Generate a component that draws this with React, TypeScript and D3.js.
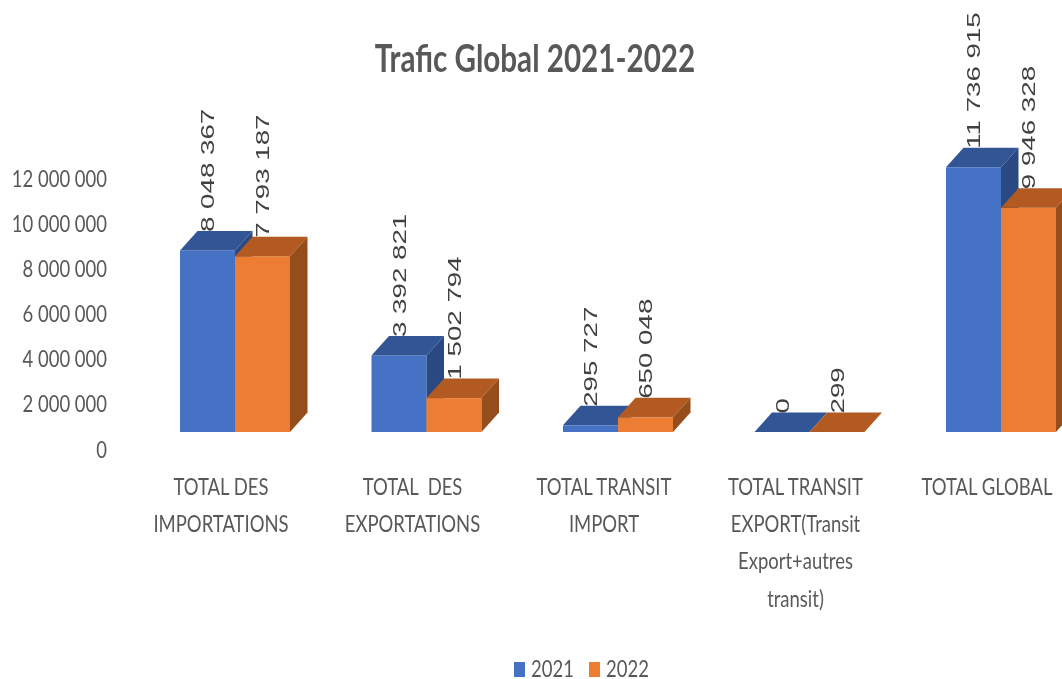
import React from "react";
import * as d3 from "d3";

const categories = ["imports", "exports", "transitImport", "transitExport", "global"];
const categoryLines = [
  ["TOTAL DES", "IMPORTATIONS"],
  ["TOTAL  DES", "EXPORTATIONS"],
  ["TOTAL TRANSIT", "IMPORT"],
  ["TOTAL TRANSIT", "EXPORT(Transit", "Export+autres", "transit)"],
  ["TOTAL GLOBAL"],
];
const values2021 = [8048367, 3392821, 295727, 0, 11736915];
const values2022 = [7793187, 1502794, 650048, 299, 9946328];
const labels2021 = ["8 048 367", "3 392 821", "295 727", "0", "11 736 915"];
const labels2022 = ["7 793 187", "1 502 794", "650 048", "299", "9 946 328"];
const yTicks = [0, 2000000, 4000000, 6000000, 8000000, 10000000, 12000000];
const yTickLabels = ["0", "2 000 000", "4 000 000", "6 000 000", "8 000 000", "10 000 000", "12 000 000"];

const W = 1062, H = 679;
const DX = 17.5, DY = 19.5;
const SANS = "Lato, 'Liberation Sans', sans-serif";
const GREY = "#595959";
const SQUEEZE = 0.77;

const y = d3.scaleLinear().domain([0, 12000000]).range([432, 161.4]);
const x0 = d3.scaleBand().domain(categories).range([180, 180 + 191.5 * 5]);
const x1 = d3.scaleBand().domain(["2021", "2022"]).range([0, 110]);

const palette: Record<string, { front: string; top: string; side: string }> = {
  "2021": { front: "#4472C4", top: "#305496", side: "#2A4A82" },
  "2022": { front: "#ED7D31", top: "#B25A20", side: "#964E1B" },
};

function Bar({ left, width, value, series }: { left: number; width: number; value: number; series: string }) {
  const t = y(value), b = y(0), c = palette[series];
  const r = left + width;
  return (
    <g>
      <rect x={left} y={t} width={width} height={b - t} fill={c.front} />
      <path d={`M${left},${t}L${left + DX},${t - DY}L${r + DX},${t - DY}L${r},${t}Z`} fill={c.top} />
      <path d={`M${r},${t}L${r + DX},${t - DY}L${r + DX},${b - DY}L${r},${b}Z`} fill={c.side} />
    </g>
  );
}

function ValueLabel({ cx, value, text }: { cx: number; value: number; text: string }) {
  const yy = y(value) - DY + 1;
  return (
    <text
      transform={`translate(${cx + 6.5},${yy}) rotate(-90) scale(1.54,1)`}
      fontFamily="'Liberation Sans', Arial, sans-serif"
      fontSize={18}
      fill="#404040"
    >
      {text}
    </text>
  );
}

export default function App() {
  const bw = x1.bandwidth();
  const series = [
    { key: "2021", values: values2021, labels: labels2021 },
    { key: "2022", values: values2022, labels: labels2022 },
  ];
  return (
    <svg
      width={W}
      height={H}
      viewBox={`0 0 ${W} ${H}`}
      style={{ position: "absolute", left: 0, top: 0, background: "#fff", display: "block" }}
    >
      <defs>
        <filter id="soft" x="0" y="0" width="100%" height="100%">
          <feGaussianBlur stdDeviation="0.45" />
        </filter>
      </defs>
      <g filter="url(#soft)">
        <text
          transform={`translate(535,72) scale(0.78,1)`}
          textAnchor="middle"
          fontFamily={SANS}
          fontWeight="bold"
          fontSize={38}
          fill={GREY}
        >
          Trafic Global 2021-2022
        </text>

        {yTicks.map((t, i) => (
          <text
            key={t}
            transform={`translate(107,${y(t) + 25.5}) scale(${SQUEEZE},1)`}
            textAnchor="end"
            fontFamily={SANS}
            fontSize={24}
            fill={GREY}
          >
            {yTickLabels[i]}
          </text>
        ))}

        {categories.map((c, i) =>
          series.map((s) => (
            <ValueLabel
              key={c + s.key}
              cx={(x0(c) as number) + (x1(s.key) as number) + bw / 2}
              value={s.values[i]}
              text={s.labels[i]}
            />
          ))
        )}

        {categories.map((c, i) =>
          series.map((s) => (
            <Bar
              key={c + s.key}
              left={(x0(c) as number) + (x1(s.key) as number)}
              width={bw}
              value={s.values[i]}
              series={s.key}
            />
          ))
        )}

        {categories.map((c, i) =>
          categoryLines[i].map((line, j) => (
            <text
              key={c + j}
              transform={`translate(${(x0(c) as number) + 41},${495 + j * 37.2}) scale(${SQUEEZE},1)`}
              textAnchor="middle"
              xmlSpace="preserve"
              fontFamily={SANS}
              fontSize={24}
              fill={GREY}
            >
              {line}
            </text>
          ))
        )}

        {series.map((s, i) => {
          const sx = 514 + i * 75;
          return (
            <g key={s.key}>
              <rect x={sx} y={662} width={11} height={15} fill={palette[s.key].front} />
              <text
                transform={`translate(${sx + 17},677) scale(${SQUEEZE},1)`}
                fontFamily={SANS}
                fontSize={24}
                fill={GREY}
              >
                {s.key}
              </text>
            </g>
          );
        })}
      </g>
    </svg>
  );
}
